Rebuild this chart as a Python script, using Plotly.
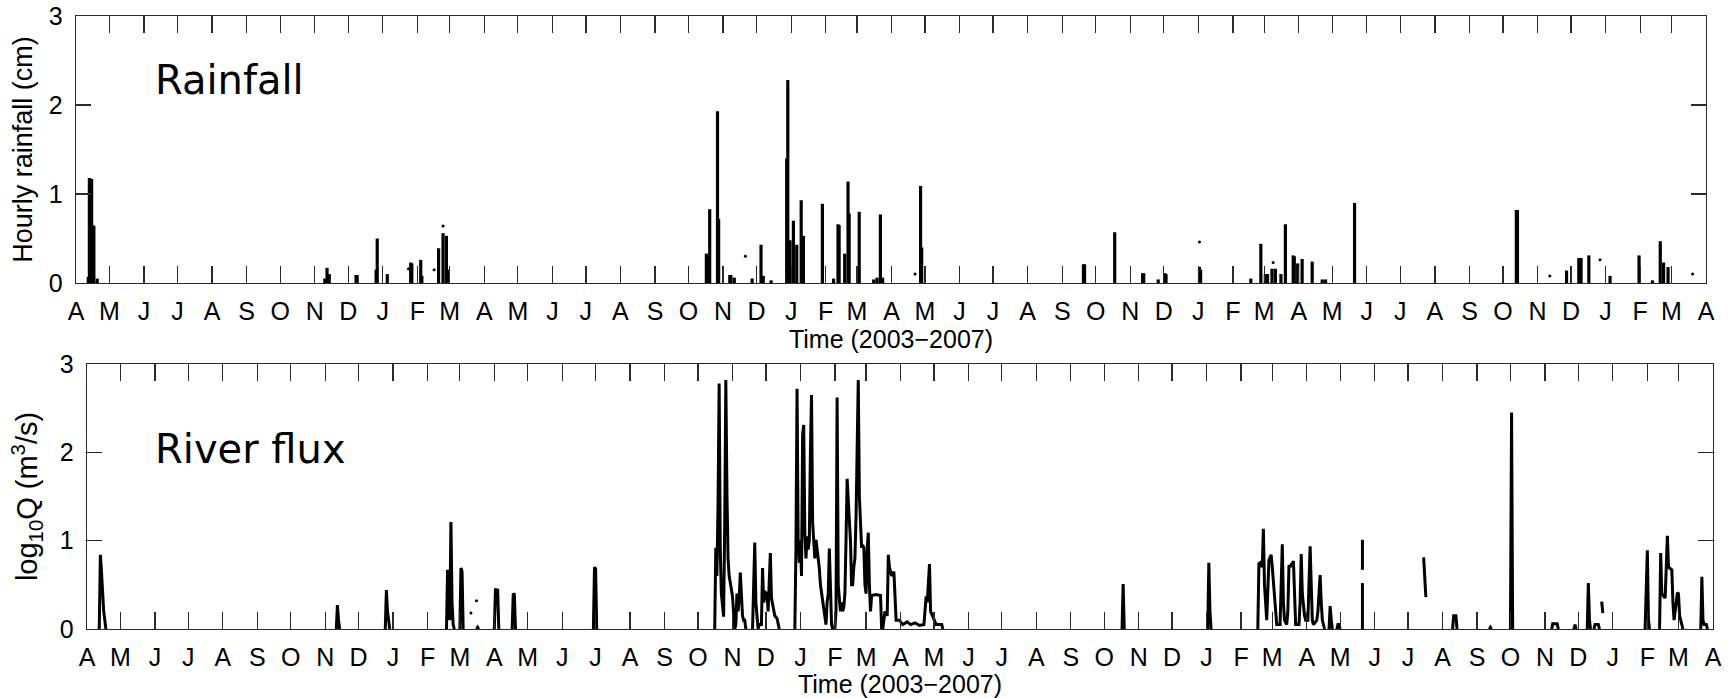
import plotly.graph_objects as go

# ---------------- data ----------------
month_letters = ["A", "M", "J", "J", "A", "S", "O", "N", "D", "J", "F", "M"] * 4 + ["A"]
month_starts = [f"{2003 + (3 + i) // 12}-{(3 + i) % 12 + 1:02d}-01" for i in range(49)]
y_ticks = [0, 1, 2, 3]

# hourly rainfall peaks (date, cm)
rain_2003_04 = [
    ("2003-04-12", 0.07), ("2003-04-13", 1.18), ("2003-04-14", 1.17), ("2003-04-15", 1.17),
    ("2003-04-16", 0.65), ("2003-04-17", 0.64), ("2003-04-20", 0.05), ("2003-11-10", 0.05),
    ("2003-11-12", 0.17), ("2003-11-14", 0.10), ("2003-12-08", 0.09), ("2003-12-09", 0.09),
    ("2003-12-26", 0.15), ("2003-12-27", 0.50), ("2004-01-05", 0.10), ("2004-01-26", 0.23),
    ("2004-01-27", 0.22), ("2004-02-04", 0.26), ("2004-02-05", 0.08), ("2004-02-20", 0.39),
    ("2004-02-24", 0.56), ("2004-02-27", 0.53), ("2004-02-28", 0.15),
]
rain_2004_05 = [
    ("2004-10-17", 0.33), ("2004-10-19", 0.30), ("2004-10-20", 0.83), ("2004-10-27", 1.93),
    ("2004-10-28", 0.72), ("2004-11-07", 0.09), ("2004-11-08", 0.09), ("2004-11-11", 0.06),
    ("2004-11-27", 0.05), ("2004-12-05", 0.43), ("2004-12-07", 0.08), ("2004-12-14", 0.03),
    ("2004-12-28", 1.40), ("2004-12-29", 2.28), ("2004-12-31", 0.48), ("2005-01-03", 0.70),
    ("2005-01-06", 0.43), ("2005-01-10", 0.93), ("2005-01-12", 0.53), ("2005-01-29", 0.89),
    ("2005-02-08", 0.05), ("2005-02-12", 0.66), ("2005-02-13", 0.65), ("2005-02-18", 0.33),
    ("2005-02-21", 1.14), ("2005-02-22", 0.78), ("2005-03-03", 0.80), ("2005-03-16", 0.04),
    ("2005-03-19", 0.06), ("2005-03-22", 0.77), ("2005-03-24", 0.06), ("2005-04-27", 1.09),
    ("2005-04-28", 0.40),
]
rain_2005_06 = [
    ("2005-09-20", 0.21), ("2005-09-21", 0.21), ("2005-10-18", 0.57), ("2005-11-12", 0.11),
    ("2005-11-13", 0.11), ("2005-11-26", 0.04), ("2005-12-02", 0.11), ("2005-12-03", 0.10),
    ("2006-01-02", 0.18), ("2006-01-03", 0.15), ("2006-02-17", 0.05), ("2006-02-26", 0.44),
    ("2006-03-02", 0.10), ("2006-03-04", 0.10), ("2006-03-08", 0.16), ("2006-03-11", 0.16),
    ("2006-03-16", 0.10), ("2006-03-20", 0.66), ("2006-03-27", 0.31), ("2006-03-28", 0.30),
    ("2006-03-31", 0.22), ("2006-04-04", 0.27), ("2006-04-13", 0.24), ("2006-04-22", 0.04),
    ("2006-04-25", 0.04), ("2006-05-21", 0.90),
]
rain_2006_07 = [
    ("2006-10-13", 0.82), ("2006-10-14", 0.82), ("2006-11-27", 0.14), ("2006-12-08", 0.28),
    ("2006-12-09", 0.28), ("2006-12-10", 0.28), ("2006-12-17", 0.31), ("2007-01-05", 0.08),
    ("2007-01-31", 0.31), ("2007-02-12", 0.03), ("2007-02-19", 0.47), ("2007-02-22", 0.23),
    ("2007-02-26", 0.18),
]
rain_isolated = [
    ("2004-01-24", 0.16), ("2004-02-16", 0.15), ("2004-02-24", 0.64), ("2004-11-21", 0.30),
    ("2005-04-22", 0.10), ("2006-01-02", 0.46), ("2006-03-09", 0.23), ("2006-11-12", 0.08),
    ("2006-12-27", 0.26), ("2007-03-20", 0.10),
]

# log10 river discharge (date, log10 Q); None = gap in record
flux_2003_04 = [
    ("2003-04-12", 0), ("2003-04-13", 0.84), ("2003-04-14", 0.65), ("2003-04-15", 0.40),
    ("2003-04-16", 0.20), ("2003-04-18", 0), None,
    ("2003-11-11", 0), ("2003-11-12", 0.27), ("2003-11-13", 0.10), ("2003-11-14", 0), None,
    ("2003-12-25", 0), ("2003-12-26", 0.44), ("2003-12-27", 0.20), ("2003-12-28", 0.05),
    ("2003-12-29", 0), None,
    ("2004-02-18", 0), ("2004-02-19", 0.67), ("2004-02-20", 0.20), ("2004-02-21", 0.10),
    ("2004-02-22", 1.21), ("2004-02-23", 0.30), ("2004-02-24", 0.05), ("2004-02-25", 0), None,
    ("2004-03-01", 0), ("2004-03-02", 0.69), ("2004-03-03", 0.65), ("2004-03-04", 0), None,
    ("2004-03-16", 0), ("2004-03-17", 0.02), ("2004-03-18", 0), None,
    ("2004-04-01", 0), ("2004-04-02", 0.445), ("2004-04-03", 0.445), ("2004-04-04", 0.44),
    ("2004-04-05", 0), None,
    ("2004-04-17", 0), ("2004-04-18", 0.40), ("2004-04-19", 0.39), ("2004-04-20", 0), None,
    ("2004-06-29", 0), ("2004-06-30", 0.70), ("2004-07-01", 0.68), ("2004-07-02", 0), None,
]
flux_2004_autumn = [
    ("2004-10-16", 0), ("2004-10-17", 0.92), ("2004-10-18", 0.60), ("2004-10-19", 1.40),
    ("2004-10-20", 2.78), ("2004-10-21", 0.90), ("2004-10-22", 0.40), ("2004-10-23", 0.30),
    ("2004-10-24", 0.14), ("2004-10-25", 1.20), ("2004-10-26", 2.82), ("2004-10-27", 1.54),
    ("2004-10-28", 0.80), ("2004-10-29", 0.60), ("2004-10-30", 0.50), ("2004-10-31", 0.45),
    ("2004-11-01", 0.37), ("2004-11-02", 0.20), ("2004-11-03", 0.0), ("2004-11-04", 0.05),
    ("2004-11-05", 0.40), ("2004-11-06", 0.20), ("2004-11-07", 0.35), ("2004-11-08", 0.64),
    ("2004-11-09", 0.30), ("2004-11-10", 0.15), ("2004-11-11", 0.10), ("2004-11-12", 0.10),
    ("2004-11-13", 0), None,
    ("2004-11-19", 0), ("2004-11-21", 0.98), ("2004-11-22", 0.30), ("2004-11-23", 0.10),
    ("2004-11-24", 0), ("2004-11-25", 0.05), ("2004-11-27", 0.05), ("2004-11-28", 0.69),
    ("2004-11-29", 0.30), ("2004-12-01", 0.41), ("2004-12-02", 0.40), ("2004-12-03", 0.20),
    ("2004-12-05", 0.86), ("2004-12-06", 0.35), ("2004-12-08", 0.20), ("2004-12-09", 0.15),
    ("2004-12-11", 0.12), ("2004-12-12", 0.05), ("2004-12-13", 0), None,
]
flux_2005_winter = [
    ("2004-12-27", 0), ("2004-12-28", 0.90), ("2004-12-29", 2.72), ("2004-12-30", 1.00),
    ("2004-12-31", 0.75), ("2005-01-01", 1.00), ("2005-01-02", 0.60), ("2005-01-03", 2.20),
    ("2005-01-04", 2.31), ("2005-01-05", 1.08), ("2005-01-06", 0.80), ("2005-01-07", 1.05),
    ("2005-01-08", 0.90), ("2005-01-09", 1.00), ("2005-01-10", 2.00), ("2005-01-11", 2.65),
    ("2005-01-12", 1.20), ("2005-01-13", 1.00), ("2005-01-14", 0.80), ("2005-01-15", 1.01),
    ("2005-01-16", 0.90), ("2005-01-17", 0.75), ("2005-01-18", 0.69), ("2005-01-19", 0.50),
    ("2005-01-20", 0.40), ("2005-01-21", 0.35), ("2005-01-22", 0.20), ("2005-01-23", 0.10),
    ("2005-01-24", 0.05), ("2005-01-25", 0.30), ("2005-01-26", 0.40), ("2005-01-27", 0.91),
    ("2005-01-28", 0.30), ("2005-01-29", 0.05), ("2005-01-30", 0), ("2005-02-01", 0),
    ("2005-02-02", 0.20), ("2005-02-03", 2.62), ("2005-02-04", 0.50), ("2005-02-05", 0.30),
    ("2005-02-06", 0.20), ("2005-02-07", 0.30), ("2005-02-08", 0.20), ("2005-02-09", 0.25),
    ("2005-02-10", 0.40), ("2005-02-11", 1.00), ("2005-02-12", 1.70), ("2005-02-13", 1.46),
    ("2005-02-14", 1.20), ("2005-02-15", 1.00), ("2005-02-16", 0.50), ("2005-02-17", 0.50),
    ("2005-02-18", 0.70), ("2005-02-19", 0.80), ("2005-02-20", 1.27), ("2005-02-21", 2.40),
    ("2005-02-22", 2.82), ("2005-02-23", 1.50), ("2005-02-24", 1.07), ("2005-02-25", 0.92),
    ("2005-02-26", 0.95), ("2005-02-27", 0.92), ("2005-02-28", 0.50), ("2005-03-01", 0.40),
    ("2005-03-02", 0.90), ("2005-03-03", 1.09), ("2005-03-04", 0.50), ("2005-03-05", 0.20),
    ("2005-03-06", 0.38), ("2005-03-10", 0.39), ("2005-03-14", 0.38), ("2005-03-15", 0),
    ("2005-03-16", 0), ("2005-03-18", 0.20), ("2005-03-20", 0.15), ("2005-03-21", 0.84),
    ("2005-03-22", 0.70), ("2005-03-24", 0.60), ("2005-03-26", 0.65), ("2005-03-28", 0.10),
    ("2005-03-31", 0.10), ("2005-04-03", 0.05), ("2005-04-07", 0.08), ("2005-04-10", 0.05),
    ("2005-04-14", 0.07), ("2005-04-18", 0.04), ("2005-04-22", 0.05), ("2005-04-24", 0.37),
    ("2005-04-25", 0.30), ("2005-04-27", 0.735), ("2005-04-28", 0.20), ("2005-05-03", 0.05),
    ("2005-05-08", 0.05), ("2005-05-09", 0), None,
]
flux_2005_06 = [
    ("2005-10-17", 0), ("2005-10-18", 0.51), ("2005-10-19", 0), None,
    ("2006-01-02", 0), ("2006-01-03", 0.75), ("2006-01-04", 0.20), ("2006-01-05", 0), None,
    ("2006-02-16", 0), ("2006-02-17", 0.74), ("2006-02-18", 0.75), ("2006-02-20", 0.70),
    ("2006-02-21", 1.135), ("2006-02-22", 0.50), ("2006-02-23", 0.30), ("2006-02-24", 0.10),
    ("2006-02-26", 0.78), ("2006-02-28", 0.84), ("2006-03-01", 0.70), ("2006-03-02", 0.55),
    ("2006-03-04", 0.30), ("2006-03-05", 0.05), ("2006-03-08", 0.05), ("2006-03-10", 0.96),
    ("2006-03-11", 0.30), ("2006-03-12", 0.10), ("2006-03-14", 0.05), ("2006-03-15", 0.20),
    ("2006-03-16", 0.72), ("2006-03-17", 0.70), ("2006-03-18", 0.73), ("2006-03-19", 0.74),
    ("2006-03-20", 0.77), ("2006-03-21", 0.30), ("2006-03-22", 0.05), ("2006-03-25", 0.05),
    ("2006-03-26", 0.30), ("2006-03-27", 0.85), ("2006-03-28", 0.40), ("2006-03-30", 0.15),
    ("2006-03-31", 0.10), ("2006-04-02", 0.10), ("2006-04-03", 0.50), ("2006-04-04", 0.935),
    ("2006-04-05", 0.50), ("2006-04-06", 0.10), ("2006-04-07", 0.05), ("2006-04-09", 0.08),
    ("2006-04-10", 0.10), ("2006-04-11", 0.20), ("2006-04-13", 0.61), ("2006-04-14", 0.30),
    ("2006-04-15", 0.10), ("2006-04-16", 0.05), ("2006-04-17", 0), None,
    ("2006-04-21", 0), ("2006-04-22", 0.26), ("2006-04-23", 0.10), ("2006-04-24", 0), None,
    ("2006-04-28", 0), ("2006-04-29", 0.05), ("2006-04-30", 0.05), ("2006-05-01", 0), None,
    ("2006-05-21", 0), ("2006-05-21", 0.52), None, ("2006-05-21", 0.67), ("2006-05-21", 1.01), None,
    ("2006-07-15", 0.81), ("2006-07-16", 0.60), ("2006-07-17", 0.36), None,
    ("2006-08-10", 0), ("2006-08-11", 0.15), ("2006-08-12", 0.15), ("2006-08-13", 0.15),
    ("2006-08-14", 0), None,
    ("2006-09-12", 0), ("2006-09-13", 0.02), ("2006-09-14", 0), None,
]
flux_2006_07 = [
    ("2006-10-01", 0), ("2006-10-02", 2.45), ("2006-10-03", 0), None,
    ("2006-11-07", 0), ("2006-11-08", 0.06), ("2006-11-12", 0.06), ("2006-11-13", 0), None,
    ("2006-11-27", 0), ("2006-11-28", 0.05), ("2006-11-29", 0), None,
    ("2006-12-09", 0), ("2006-12-10", 0.52), ("2006-12-11", 0.10), ("2006-12-12", 0), None,
    ("2006-12-15", 0), ("2006-12-16", 0.05), ("2006-12-19", 0.05), ("2006-12-20", 0), None,
    ("2006-12-22", 0.31), ("2006-12-23", 0.18), None,
    ("2007-01-30", 0), ("2007-01-31", 0.45), ("2007-02-01", 0.89), ("2007-02-02", 0.10),
    ("2007-02-03", 0), None,
    ("2007-02-12", 0), ("2007-02-13", 0.86), ("2007-02-14", 0.40), ("2007-02-17", 0.35),
    ("2007-02-18", 0.70), ("2007-02-19", 1.055), ("2007-02-20", 0.70), ("2007-02-23", 0.67),
    ("2007-02-24", 0.30), ("2007-02-25", 0.10), ("2007-02-27", 0.30), ("2007-02-28", 0.41),
    ("2007-03-01", 0.40), ("2007-03-02", 0.15), ("2007-03-03", 0.10), ("2007-03-04", 0.05),
    ("2007-03-05", 0), None,
    ("2007-03-21", 0), ("2007-03-22", 0.59), ("2007-03-23", 0.10), ("2007-03-24", 0.05),
    ("2007-03-26", 0.05), ("2007-03-27", 0), None,
]
flux_isolated = [("2004-03-11", 0.18), ("2004-03-16", 0.32)]


# ---------------- helpers ----------------
def stems(pairs):
    xs, ys = [], []
    for d, v in pairs:
        xs += [d, d, None]
        ys += [0, v, None]
    return xs, ys


def series(pairs):
    xs, ys = [], []
    for p in pairs:
        if p is None:
            xs.append(None)
            ys.append(None)
        else:
            xs.append(p[0])
            ys.append(p[1])
    return xs, ys


W, H = 1729, 698
AXC = "#2a2a2a"
FONT_FAMILY = "Liberation Sans, Arial, sans-serif"
TICKFONT = dict(family=FONT_FAMILY, size=25, color="black")
TITLEFONT = dict(family=FONT_FAMILY, size=27, color="black")
TITLEFONT2 = dict(family=FONT_FAMILY, size=29, color="black")

fig = go.Figure()

rain_all = rain_2003_04 + rain_2004_05 + rain_2005_06 + rain_2006_07
rx, ry = stems(rain_all)
fig.add_trace(go.Scatter(x=rx, y=ry, mode="lines", line=dict(color="black", width=3.2),
                         xaxis="x", yaxis="y", hoverinfo="skip"))
dx, dy = series(rain_isolated)
fig.add_trace(go.Scatter(x=dx, y=dy, mode="markers", marker=dict(color="black", size=3),
                         xaxis="x", yaxis="y", hoverinfo="skip"))

flux_all = flux_2003_04 + flux_2004_autumn + flux_2005_winter + flux_2005_06 + flux_2006_07
fx, fy = series(flux_all)
fig.add_trace(go.Scatter(x=fx, y=fy, mode="lines", line=dict(color="black", width=3),
                         connectgaps=False, xaxis="x2", yaxis="y2", hoverinfo="skip"))
ix, iy = series(flux_isolated)
fig.add_trace(go.Scatter(x=ix, y=iy, mode="markers", marker=dict(color="black", size=3),
                         xaxis="x2", yaxis="y2", hoverinfo="skip"))

common_x = dict(
    type="date", range=[month_starts[0], month_starts[-1]],
    tickmode="array", tickvals=month_starts, ticktext=month_letters,
    ticks="inside", ticklen=17, tickwidth=1.3, tickcolor=AXC,
    showline=True, linecolor=AXC, linewidth=1.3, mirror="ticks",
    showgrid=False, zeroline=False, tickfont=TICKFONT, automargin=False,
    ticklabelstandoff=6,
)
common_y = dict(
    range=[0, 3], tickmode="array", tickvals=y_ticks, ticktext=[str(v) for v in y_ticks],
    ticks="inside", ticklen=15, tickwidth=1.3, tickcolor=AXC,
    showline=True, linecolor=AXC, linewidth=1.3, mirror="ticks",
    showgrid=False, zeroline=False, tickfont=TICKFONT, automargin=False,
    ticklabelstandoff=7,
)

fig.update_layout(
    width=W, height=H, autosize=False,
    margin=dict(l=0, r=0, t=0, b=0),
    template="none",
    paper_bgcolor="white", plot_bgcolor="white",
    showlegend=False,
    xaxis=dict(common_x, domain=[76 / W, 1706 / W], anchor="y",
               title=dict(text="Time (2003\u22122007)", font=TICKFONT, standoff=5)),
    yaxis=dict(common_y, domain=[1 - 283 / H, 1 - 16 / H], anchor="x",
               title=dict(text="Hourly rainfall (cm)", font=TITLEFONT, standoff=8)),
    xaxis2=dict(common_x, domain=[87 / W, 1713 / W], anchor="y2",
                title=dict(text="Time (2003\u22122007)", font=TICKFONT, standoff=2)),
    yaxis2=dict(common_y, domain=[1 - 629 / H, 1 - 364 / H], anchor="x2",
                title=dict(text="log<sub>10</sub>Q (m<sup>3</sup>/s)", font=TITLEFONT2, standoff=13)),
    annotations=[
        dict(text="Rainfall", xref="paper", yref="paper", x=153 / W, y=1 - 80 / H,
             xanchor="left", yanchor="middle", showarrow=False,
             font=dict(family="DejaVu Sans", size=40, color="black")),
        dict(text="River flux", xref="paper", yref="paper", x=153 / W, y=1 - 449 / H,
             xanchor="left", yanchor="middle", showarrow=False,
             font=dict(family="DejaVu Sans", size=40, color="black")),
    ],
)

fig.write_html(
    "out.html",
    config={"displayModeBar": False, "staticPlot": True},
    post_script="document.body.style.margin='0px';document.body.style.overflow='hidden';",
)
